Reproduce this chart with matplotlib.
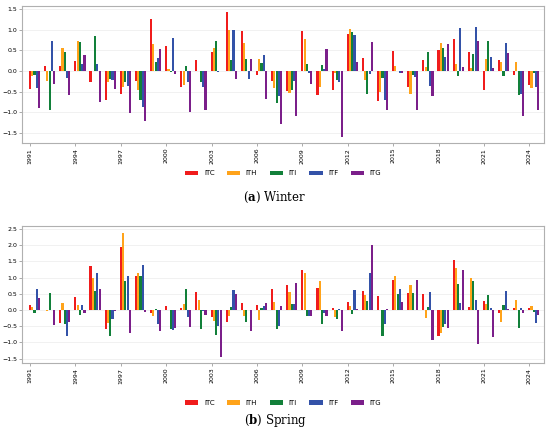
import matplotlib
matplotlib.use("Agg")
import matplotlib.pyplot as plt
import numpy as np

years = list(range(1991, 2025))
series = ["ITC", "ITH", "ITI", "ITF", "ITG"]
colors = ["#f01c1c", "#ffa31a", "#12803a", "#3352a8", "#7b1f8a"]

winter_itc = [-0.45, 0.13, 0.11, 0.25, -0.27, -0.71, -0.57, -0.24, 1.26, 0.61, -0.40, 0.26, 0.45, 1.44, 0.97, -0.10, -0.25, -0.49, 0.98, -0.59, -0.46, 0.90, 0.31, -0.74, 0.48, -0.40, 0.26, 0.50, 0.78, 0.47, -0.47, 0.26, -0.10, -0.34]
winter_ith = [-0.13, -0.25, 0.57, 0.74, 0.01, -0.28, -0.40, -0.47, 0.66, 0.05, -0.35, 0.01, 0.57, 1.00, 0.69, 0.29, -0.42, -0.54, 0.78, -0.38, -0.06, 1.03, -0.23, -0.52, 0.12, -0.55, 0.10, 0.67, 0.17, 0.07, 0.28, 0.22, 0.21, -0.42]
winter_iti = [-0.10, -0.95, 0.46, 0.71, 0.84, -0.20, -0.28, -0.71, 0.23, -0.02, 0.12, -0.28, 0.72, 0.27, 0.28, 0.20, -0.77, -0.46, 0.17, 0.14, -0.22, 0.94, -0.55, -0.17, 0.01, -0.10, 0.47, 0.57, -0.12, 0.41, 0.73, -0.13, -0.58, -0.04]
winter_itf = [-0.42, 0.73, -0.17, 0.18, 0.17, -0.22, -0.37, -0.87, 0.32, 0.80, -0.26, -0.38, -0.03, 1.00, -0.20, 0.38, -0.60, -0.24, -0.04, 0.05, -0.28, 0.87, -0.08, -0.70, -0.06, -0.15, -0.37, 0.35, 1.05, 1.08, 0.34, 0.69, -0.56, -0.39]
winter_itg = [-0.91, -0.32, -0.59, 0.38, -0.76, -0.44, -1.02, -1.21, 0.53, -0.08, -0.99, -0.95, 0.01, -0.20, 0.29, -0.68, -1.28, -1.09, -0.31, 0.54, -1.60, 0.22, 0.71, -0.96, -0.06, -0.94, -0.62, 0.66, 0.10, 0.72, 0.07, 0.44, -1.10, -0.96]

spring_itc = [0.14, 0.01, -0.41, 0.41, 1.36, -0.59, 1.95, 1.05, -0.08, 0.13, 0.07, 0.56, -0.22, -0.37, 0.22, 0.16, 0.66, 0.78, 1.24, 0.68, 0.05, 0.25, 0.60, 0.43, 0.91, 0.52, 0.48, -0.80, 1.53, 0.10, 0.27, -0.10, 0.06, 0.05]
spring_ith = [0.10, -0.04, 0.21, 0.16, 0.99, -0.40, 2.37, 1.14, -0.17, 0.01, 0.19, 0.30, -0.33, -0.19, -0.20, -0.30, 0.26, 0.57, 1.15, 0.88, -0.22, 0.12, 0.47, 0.01, 1.04, 0.77, -0.26, -0.72, 1.29, 1.00, 0.20, -0.38, 0.31, 0.13]
spring_iti = [-0.08, 0.53, -0.43, -0.15, 0.60, -0.79, 0.89, 1.05, 0.04, -0.58, 0.65, -0.58, -0.77, 0.10, -0.38, 0.07, -0.60, 0.18, -0.18, -0.43, -0.27, -0.13, 0.28, -0.79, 0.50, 0.52, 0.10, -0.53, 0.79, 0.88, 0.47, 0.16, -0.55, -0.07]
spring_itf = [0.66, 0.01, -0.79, 0.16, 1.14, -0.28, 1.04, 1.39, -0.44, -0.62, -0.22, -0.02, -0.48, 0.62, 0.01, 0.13, -0.48, 0.17, -0.20, -0.08, 0.04, 0.62, 1.15, -0.42, 0.65, 0.01, 0.57, -0.43, 0.23, 0.31, 0.06, 0.58, 0.06, -0.41]
spring_itg = [0.36, -0.45, -0.36, -0.10, 0.66, -0.04, -0.72, -0.07, -0.65, -0.55, -0.53, -0.15, -1.46, 0.48, -0.66, 0.23, 0.13, 0.82, -0.20, -0.18, -0.66, 0.03, 2.00, 0.03, 0.24, 0.94, -0.92, -0.55, 1.24, -1.04, -0.84, 0.03, -0.10, -0.14]

winter = [winter_itc, winter_ith, winter_iti, winter_itf, winter_itg]
spring = [spring_itc, spring_ith, spring_iti, spring_itf, spring_itg]
tick_years = years[::3]

fig = plt.figure(figsize=(5.5, 4.33), dpi=100)
ax1 = fig.add_axes([0.040, 0.670, 0.949, 0.317])
ax2 = fig.add_axes([0.040, 0.162, 0.949, 0.316])

x = np.arange(len(years))
step = 0.15
width = 0.14

def draw(ax, data, yticks):
    handles = []
    for i, (vals, c, name) in enumerate(zip(data, colors, series)):
        h = ax.bar(x + i * step, vals, width=width, color=c, label=name, zorder=3)
        handles.append(h)
    ax.set_xlim(-0.53, len(years) - 1 + 0.97)
    ax.set_xticks([years.index(y) for y in tick_years])
    ax.set_xticklabels([str(y) for y in tick_years], rotation=90, fontsize=4.5)
    ax.set_yticks(yticks)
    ax.set_yticklabels([f"{v:.1f}".replace("-", "\u2212") for v in yticks], fontsize=4.5)
    ax.grid(axis="y", color="#efefef", linewidth=0.6, zorder=0)
    for s in ax.spines.values():
        s.set_color("#b0b0b0")
        s.set_linewidth(0.8)
    ax.tick_params(length=2, width=0.5, color="#888888", pad=1.5)
    return handles

h1 = draw(ax1, winter, [-1.5, -1.0, -0.5, 0.0, 0.5, 1.0, 1.5])
ax1.set_ylim(-1.75, 1.59)
h2 = draw(ax2, spring, [-1.5, -1.0, -0.5, 0.0, 0.5, 1.0, 1.5, 2.0, 2.5])
ax2.set_ylim(-1.63, 2.59)

leg_kw = dict(ncol=5, frameon=False, fontsize=5, handlelength=1.9, handleheight=0.6,
              handletextpad=0.8, columnspacing=1.8, loc="center")
fig.legend(handles=h1, labels=series, bbox_to_anchor=(0.515, 0.600), **leg_kw)
fig.legend(handles=h2, labels=series, bbox_to_anchor=(0.515, 0.069), **leg_kw)

fig.text(0.5, 0.545, r"($\mathbf{a}$) Winter", ha="center", va="center",
         fontsize=8.5, family="DejaVu Serif", math_fontfamily="dejavuserif")
fig.text(0.5, 0.030, r"($\mathbf{b}$) Spring", ha="center", va="center",
         fontsize=8.5, family="DejaVu Serif", math_fontfamily="dejavuserif")

fig.savefig("out.png", dpi=100)
